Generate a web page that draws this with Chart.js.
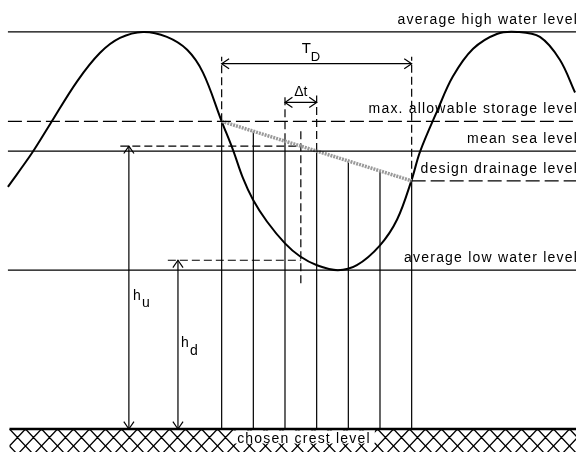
<!DOCTYPE html>
<html lang="en">
<head>
<meta charset="UTF-8">
<title>Drainage through a sluice</title>
<script src="https://cdn.jsdelivr.net/npm/chart.js@4"></script>
<style>
    html, body { margin: 0; padding: 0; background: #fff; }
    canvas { display: block; }
</style>
</head>
<body>
<canvas id="tideChart" width="580" height="452"></canvas>
<script>
// levels above the chosen crest level (m)
var crestLevel = 0;
var lowWater = 1.6;
var designDrainage = 2.5;
var meanSea = 2.8;
var maxStorage = 3.1;
var highWater = 4.0;

// tide curve (time in h, level in m)
var tideTime  = [0.25, 1.01, 1.58, 2.43, 3.16, 3.79, 4.52, 5.27, 5.91, 6.41, 7.0, 7.36, 7.67, 7.99, 8.43, 9.0, 9.47, 10.01, 10.67, 11.27, 12.0, 12.54, 13.0, 13.26, 13.8, 14.3, 14.94, 15.69, 16.33, 17.05, 17.68, 18.16];
var tideLevel = [2.44, 2.78, 3.07, 3.50, 3.79, 3.94, 4.0, 3.95, 3.82, 3.59, 3.10, 2.81, 2.53, 2.31, 2.09, 1.87, 1.74, 1.65, 1.60, 1.65, 1.85, 2.11, 2.51, 2.79, 3.20, 3.55, 3.83, 3.98, 4.0, 3.95, 3.72, 3.39];

// drainage period split in steps of dt
var stepTime   = [7, 8, 9, 10, 11, 12, 13];
var drainLevel = [3.1, 3.0, 2.9, 2.8, 2.7, 2.6, 2.5];

// heads at the middle of one step
var midTime = 9.5;
var headUp = 2.85;
var headDown = 1.70;
var huTime = 4.07;
var hdTime = 5.62;
var huStart = 3.8;
var hdStart = 5.3;
var midDashTop = 3.0;
var midDashBottom = 1.43;

// dimension arrows
var tdLevel = 3.68;
var tdTop = 3.75;
var dtLevel = 3.29;
var dtTop = 3.36;

var levelNames = ['average high water level', 'max. allowable storage level', 'mean sea level', 'design drainage level', 'average low water level'];
var levelValues = [highWater, maxStorage, meanSea, designDrainage, lowWater];

var xStart = 0.25, xEnd = 18.19;

function pts(xs, ys) {
    return xs.map(function (x, i) { return { x: x, y: ys[i] }; });
}

function segs(list) {
    // list of [x1, y1, x2, y2], broken apart with nulls
    var out = [];
    list.forEach(function (s) {
        out.push({ x: s[0], y: s[1] }, { x: s[2], y: s[3] }, { x: s[2], y: null });
    });
    return out;
}

function lineSet(data, width, dash, color) {
    return {
        data: data,
        showLine: true,
        borderColor: color || '#000',
        borderWidth: width,
        borderDash: dash || [],
        pointRadius: 0,
        fill: false,
        spanGaps: false
    };
}

var solidVerticals = stepTime.map(function (t, i) { return [t, crestLevel, t, drainLevel[i]]; });
solidVerticals.push([huTime, crestLevel, huTime, headUp], [hdTime, crestLevel, hdTime, headDown]);

var dashedVerticals = [
    [stepTime[0], drainLevel[0], stepTime[0], tdTop],
    [stepTime[6], drainLevel[6], stepTime[6], tdTop],
    [stepTime[2], drainLevel[2], stepTime[2], dtTop],
    [stepTime[3], drainLevel[3], stepTime[3], dtTop],
    [midTime, midDashTop, midTime, midDashBottom],
    [huStart, headUp, midTime, headUp],
    [hdStart, headDown, midTime, headDown]
];

var datasets = [
    lineSet(segs([[xStart, highWater, xEnd, highWater], [xStart, meanSea, xEnd, meanSea], [xStart, lowWater, xEnd, lowWater]]), 1.3),
    lineSet(segs([[xStart, maxStorage, xEnd, maxStorage], [stepTime[6], designDrainage, xEnd, designDrainage]]), 1.3, [14, 5]),
    lineSet(pts(stepTime, drainLevel), 3.5, [2, 1], '#9a9a9a'),
    lineSet(segs(solidVerticals), 1.2),
    lineSet(segs(dashedVerticals), 1.2, [8, 4]),
    lineSet(segs([[stepTime[0], tdLevel, stepTime[6], tdLevel], [stepTime[2], dtLevel, stepTime[3], dtLevel]]), 1.2),
    lineSet(segs([[0.3, crestLevel, xEnd, crestLevel]]), 2.5),
    Object.assign(lineSet(pts(tideTime, tideLevel), 2), { tension: 0.35 })
];

function arrowHead(ctx, x, y, ang) {
    var len = 9, spread = 0.6;
    ctx.beginPath();
    ctx.moveTo(x - len * Math.cos(ang - spread), y - len * Math.sin(ang - spread));
    ctx.lineTo(x, y);
    ctx.lineTo(x - len * Math.cos(ang + spread), y - len * Math.sin(ang + spread));
    ctx.stroke();
}

var decorPlugin = {
    id: 'decor',
    beforeDatasetsDraw: function (chart) {
        var ctx = chart.ctx, xs = chart.scales.x, ys = chart.scales.y, area = chart.chartArea;
        var top = ys.getPixelForValue(crestLevel);
        var left = xs.getPixelForValue(0.3), right = xs.getPixelForValue(xEnd);
        ctx.save();
        ctx.beginPath();
        ctx.rect(left, top, right - left, area.bottom - top);
        ctx.clip();
        ctx.strokeStyle = '#000';
        ctx.lineWidth = 1.3;
        ctx.beginPath();
        var step = 16, h = 60;
        for (var x0 = left - 80; x0 < right + 80; x0 += step) {
            ctx.moveTo(x0, top);
            ctx.lineTo(x0 + h * 16 / 17, top + h);
            ctx.moveTo(x0, top);
            ctx.lineTo(x0 - h * 16 / 17, top + h);
        }
        ctx.stroke();
        ctx.restore();

        // crest label on a white patch
        ctx.save();
        ctx.font = '14px "Liberation Sans", Arial, sans-serif';
        ctx.letterSpacing = '1.2px';
        var label = 'chosen crest level';
        var w = ctx.measureText(label).width;
        var cx = xs.getPixelForValue(9.6);
        ctx.fillStyle = '#fff';
        ctx.fillRect(cx - w / 2 - 4, top + 1.5, w + 8, 13);
        ctx.fillStyle = '#000';
        ctx.textAlign = 'center';
        ctx.textBaseline = 'alphabetic';
        ctx.fillText(label, cx, top + 14);
        ctx.restore();
    },
    afterDatasetsDraw: function (chart) {
        var ctx = chart.ctx, xs = chart.scales.x, ys = chart.scales.y;
        function px(v) { return xs.getPixelForValue(v); }
        function py(v) { return ys.getPixelForValue(v); }
        ctx.save();
        ctx.strokeStyle = '#000';
        ctx.lineWidth = 1.2;
        var up = -Math.PI / 2, down = Math.PI / 2;
        arrowHead(ctx, px(huTime), py(headUp), up);
        arrowHead(ctx, px(huTime), py(crestLevel), down);
        arrowHead(ctx, px(hdTime), py(headDown), up);
        arrowHead(ctx, px(hdTime), py(crestLevel), down);
        arrowHead(ctx, px(stepTime[0]), py(tdLevel), Math.PI);
        arrowHead(ctx, px(stepTime[6]), py(tdLevel), 0);
        arrowHead(ctx, px(stepTime[2]), py(dtLevel), Math.PI);
        arrowHead(ctx, px(stepTime[3]), py(dtLevel), 0);

        ctx.fillStyle = '#000';
        ctx.font = '14px "Liberation Sans", Arial, sans-serif';
        ctx.letterSpacing = '1.2px';
        ctx.textAlign = 'right';
        ctx.textBaseline = 'alphabetic';
        levelNames.forEach(function (name, i) {
            ctx.fillText(name, 578, py(levelValues[i]) - 8);
        });

        ctx.letterSpacing = '0px';
        ctx.textAlign = 'left';
        // T_D
        ctx.font = '15px "Liberation Sans", Arial, sans-serif';
        ctx.fillText('T', px(midTime) + 1, py(tdLevel) - 11);
        ctx.font = '13px "Liberation Sans", Arial, sans-serif';
        ctx.fillText('D', px(midTime) + 10, py(tdLevel) - 3);
        // dt
        ctx.textAlign = 'center';
        ctx.font = '14px "Liberation Sans", Arial, sans-serif';
        ctx.fillText('\u0394t', px(midTime), py(dtLevel) - 6);
        // h_u, h_d
        ctx.textAlign = 'left';
        ctx.fillText('h', px(huTime) + 4, py(1.3));
        ctx.fillText('u', px(huTime) + 13, py(1.3) + 7);
        ctx.fillText('h', px(hdTime) + 3, py(0.83));
        ctx.fillText('d', px(hdTime) + 12, py(0.83) + 8);
        ctx.restore();
    }
};

var ctx = document.getElementById('tideChart').getContext('2d');
var tideChart = new Chart(ctx, {
    type: 'scatter',
    data: { datasets: datasets },
    options: {
        responsive: false,
        animation: false,
        devicePixelRatio: 1,
        layout: { padding: 0 },
        plugins: { legend: { display: false }, tooltip: { enabled: false } },
        scales: {
            x: { type: 'linear', display: false, min: 0, max: 18.316 },
            y: { type: 'linear', display: false, min: -0.232, max: 4.322 }
        }
    },
    plugins: [decorPlugin]
});
</script>
</body>
</html>
